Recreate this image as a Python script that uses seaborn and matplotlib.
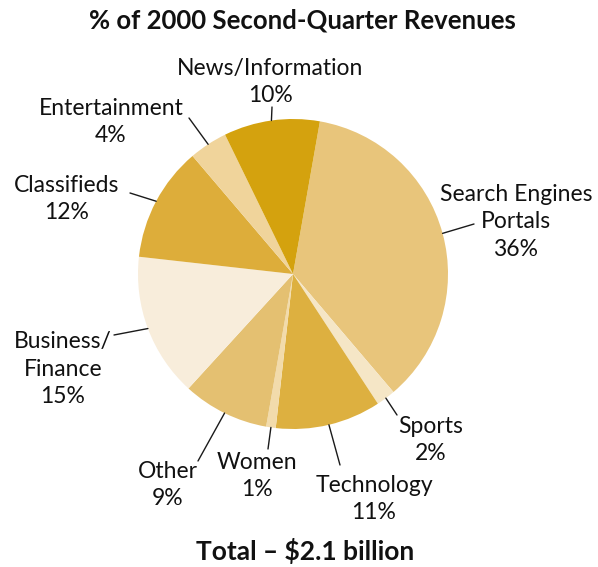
import numpy as np
import matplotlib
matplotlib.use("Agg")
import matplotlib.pyplot as plt
import seaborn as sns

# Revenue shares, clockwise from the top of the pie
categories = ["Search Engines\nPortals", "Sports", "Technology", "Women", "Other",
              "Business/\nFinance", "Classifieds", "Entertainment", "News/Information"]
shares = [36, 2, 11, 1, 9, 15, 12, 4, 10]
colors = ["#e8c57b", "#f5e6c6", "#ddb040", "#f2dbab", "#e4c071",
          "#f8eddb", "#ddad3a", "#f0d49b", "#d4a20e"]

# label centre (px from top-left), leader-line outer end (px)
label_pos = [(516, 222), (431, 440), (374, 499), (257, 476), (168, 485),
             (63, 369), (67, 199), (111, 122), (270, 82)]
line_end = [(474, 224), (397, 415), (340, 465), (268, 449), (198, 461),
            (114, 335), (130, 193), (189, 118), (272, 107)]

sns.set_theme(style="white")
plt.rcParams["font.family"] = ["Lato", "DejaVu Sans"]

W, H = 598, 567
fig = plt.figure(figsize=(W / 100, H / 100), dpi=100)
cx, cy, r = 293, 274, 155
ax = fig.add_axes([(cx - r) / W, (H - cy - r) / H, 2 * r / W, 2 * r / H])

start = 80  # degrees, counter-clockwise from 3 o'clock
wedges, _ = ax.pie(shares, colors=colors, startangle=start, counterclock=False,
                   radius=1, wedgeprops=dict(linewidth=0))
ax.set_xlim(-1, 1)
ax.set_ylim(-1, 1)
ax.set_aspect("equal")
ax.axis("off")

total = sum(shares)
cum = 0
for cat, val, (lx, ly), (ex, ey) in zip(categories, shares, label_pos, line_end):
    mid = np.deg2rad(start - (cum + val / 2) / total * 360)
    cum += val
    ax.annotate("", xy=(np.cos(mid), np.sin(mid)), xycoords="data",
                xytext=(ex, H - ey), textcoords="figure pixels",
                arrowprops=dict(arrowstyle="-", color="#1a1a1a", lw=1.0,
                                shrinkA=0, shrinkB=0))
    fig.text(lx / W, 1 - ly / H, f"{cat}\n{val}%", ha="center", va="center",
             fontsize=16.5, color="#111111", linespacing=1.37)

fig.text(302 / W, 1 - 20 / H, "% of 2000 Second-Quarter Revenues",
         ha="center", va="center", fontsize=18.5, fontweight="bold", color="#111111")
fig.text(305 / W, 1 - 551 / H, "Total – $2.1 billion",
         ha="center", va="center", fontsize=19, fontweight="bold", color="#111111")

fig.savefig("out.png", dpi=100)
